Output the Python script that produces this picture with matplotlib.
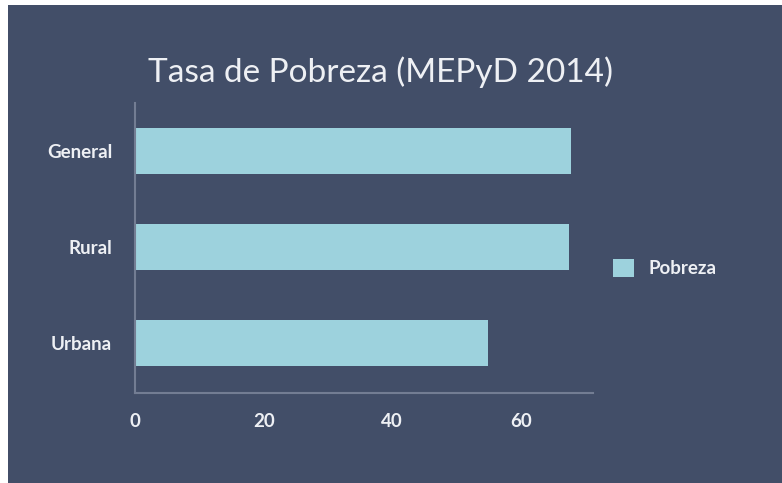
import matplotlib.pyplot as plt
from matplotlib.patches import Rectangle

categories = ["General", "Rural", "Urbana"]
pobreza = [67.8, 67.5, 54.8]
x_ticks = [0, 20, 40, 60]

BG = "#424e68"
BAR = "#9dd2dd"
TXT = "#eef0f4"
SPINE = "#737d93"

plt.rcParams['font.family'] = ['Lato', 'DejaVu Sans']

fig = plt.figure(figsize=(7.82, 4.83), dpi=100)
fig.patch.set_facecolor(BG)
# thin white strips on the left and top edges of the screenshot
fig.patches.append(Rectangle((0, 0), 8 / 782, 1, transform=fig.transFigure,
                             facecolor="white", edgecolor="none", zorder=-10))
fig.patches.append(Rectangle((0, 1 - 5 / 483), 1, 5 / 483, transform=fig.transFigure,
                             facecolor="white", edgecolor="none", zorder=-10))

ax = fig.add_axes([135 / 782, 1 - 393 / 483, (593 - 135) / 782, (393 - 103) / 483])
ax.patch.set_alpha(0)

ypos = list(range(len(categories)))
ax.barh(ypos, pobreza, height=0.48, color=BAR, label="Pobreza", zorder=2)

ax.set_xlim(0, 71.2)
ax.set_ylim(2.52, -0.5)
ax.set_yticks(ypos)
ax.set_yticklabels(categories)
ax.set_xticks(x_ticks)

for s in ["top", "right"]:
    ax.spines[s].set_visible(False)
for s in ["left", "bottom"]:
    ax.spines[s].set_color(SPINE)
    ax.spines[s].set_linewidth(1.5)

ax.tick_params(axis="both", length=0, colors=TXT, labelsize=13.5)
ax.tick_params(axis="y", pad=16.5)
ax.tick_params(axis="x", pad=14.4)
for lbl in ax.get_xticklabels() + ax.get_yticklabels():
    lbl.set_fontweight("bold")

fig.text(381 / 782, 1 - 72 / 483, "Tasa de Pobreza (MEPyD 2014)", color=TXT,
         fontsize=24, ha="center", va="center")

leg = ax.legend(loc="center left", bbox_to_anchor=(1 + 20 / 458, 0.431), frameon=False,
                borderaxespad=0, borderpad=0,
                handlelength=1.1, handleheight=1.1, handletextpad=0.8,
                prop={"weight": "bold", "size": 13.5})
for t in leg.get_texts():
    t.set_color(TXT)

fig.savefig("out.png", dpi=100, facecolor=fig.get_facecolor())
